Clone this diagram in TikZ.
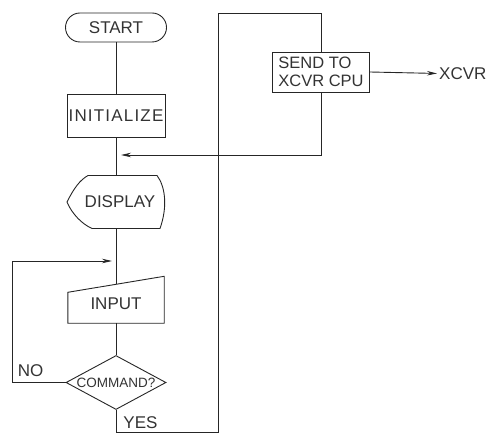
\documentclass[tikz,border=0pt]{standalone}
\usepackage{fontspec}
\setmainfont{Liberation Sans}
\usetikzlibrary{shapes.geometric,arrows.meta,calc}
\tikzset{
  ln/.style={draw=black!85, line width=0.9bp},
  arr/.style={ln, -{Stealth[length=10bp,width=4.5bp]}},
  lbl/.style={font=\fontsize{17bp}{20bp}\selectfont, text=black!80, inner sep=0pt},
  boxed/.style={ln, rectangle, inner sep=0pt, align=center, font=\fontsize{17bp}{20bp}\selectfont, text=black!80},
  ghost/.style={rectangle, inner sep=0pt, align=center, font=\fontsize{17bp}{20bp}\selectfont, text=black!80},
}
\begin{document}
\begin{tikzpicture}[x=1bp,y=-1bp]
\useasboundingbox (0,0) rectangle (486,435);
% nodes
\node[boxed, rounded corners=14.5bp, minimum width=101bp, minimum height=29bp] (start) at (116,27.5) {START};
\node[boxed, minimum width=98bp, minimum height=43bp, font=\fontsize{17bp}{20bp}\selectfont\addfontfeatures{LetterSpace=7}] (init) at (116,115.5) {INITIALIZE};
\node[ghost, minimum width=100bp, minimum height=53bp] (disp) at (116,202) {\hspace*{8bp}DISPLAY};
\node[ghost, minimum width=96bp, minimum height=38.5bp] (inp) at (116,303.75) {\raisebox{-4bp}{INPUT}};
\node[ln, diamond, aspect=1.85, inner sep=0pt, minimum width=100bp, minimum height=54bp, font=\fontsize{13.5bp}{15bp}\selectfont, text=black!80] (cmd) at (116,382.5) {COMMAND?};
\node[boxed, minimum width=97bp, minimum height=40bp, align=left, font=\fontsize{16.5bp}{18bp}\selectfont] (send) at (321,72) {SEND TO\\XCVR CPU};
\node[lbl, anchor=west] (xcvr) at (439,73.5) {XCVR};
\node[lbl] (no) at (30.5,370.5) {NO};
\node[lbl] (yes) at (140.5,422.5) {YES};
% display outline
\draw[ln] (67,202) .. controls (74,188) and (80,180) .. (88,175.5)
  -- (157,175.5) .. controls (165,186) and (168,206) .. (160,228.5)
  -- (92,228.5) .. controls (82,224) and (72,214) .. (67,202) -- cycle;
% input outline
\draw[ln] (inp.south west) -- ($(inp.north west)+(0,8)$) -- ($(inp.north east)+(0,-8)$) -- (inp.south east) -- cycle;
% junctions
\coordinate (j1) at (116,155);
\coordinate (j2) at (116,261);
\coordinate (c1) at (218,432);
\coordinate (c2) at (218,13);
\coordinate (c3) at (12,382.5);
% main flow
\draw[ln] (start.south) -- (init.north);
\draw[ln] (init.south) -- (disp.north);
\draw[ln] (disp.south) -- (inp.north);
\draw[ln] (inp.south) -- (cmd.north);
% loops
\draw[arr, shorten >=5bp] (send.south) |- (j1);
\draw[arr, shorten >=4bp] (cmd.west) -- (c3) |- (j2);
\draw[ln] (cmd.south) |- (c1) -- (c2) -| (send.north);
\draw[arr, shorten >=2bp] (send.east) -- (xcvr.west);
\end{tikzpicture}
\end{document}
